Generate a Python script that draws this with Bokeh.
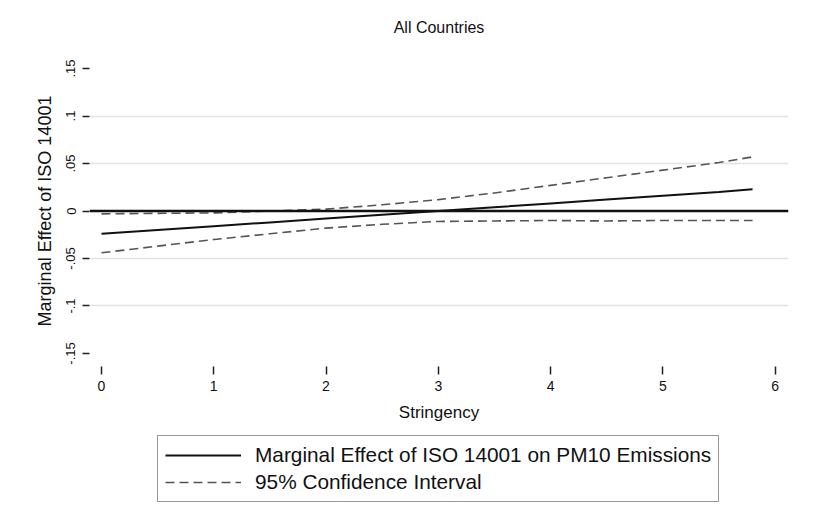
from bokeh.plotting import figure
from bokeh.layouts import column
from bokeh.models import Span, FixedTicker, Legend, LegendItem, Range1d, CustomJSTickFormatter
from bokeh.embed import file_html
from bokeh.resources import INLINE

# ---- data ----
stringency = [0, 0.5, 1, 1.5, 2, 2.5, 3, 3.5, 4, 4.5, 5, 5.5, 5.8]
marginal_effect = [-0.024, -0.020, -0.016, -0.012, -0.008, -0.004, 0.000,
                   0.004, 0.008, 0.012, 0.016, 0.020, 0.023]
ci_upper = [-0.003, -0.0025, -0.002, 0.000, 0.002, 0.0065, 0.012,
            0.019, 0.027, 0.035, 0.043, 0.051, 0.057]
ci_lower = [-0.044, -0.037, -0.030, -0.024, -0.018, -0.014, -0.011,
            -0.0105, -0.010, -0.0105, -0.010, -0.010, -0.010]
x_ticks = [0, 1, 2, 3, 4, 5, 6]
y_ticks = [-0.15, -0.1, -0.05, 0, 0.05, 0.1, 0.15]
y_tick_labels = {-0.15: "-.15", -0.1: "-.1", -0.05: "-.05", 0: "0",
                 0.05: ".05", 0.1: ".1", 0.15: ".15"}
grid_levels = [-0.1, -0.05, 0.05, 0.1]
legend_labels = ["Marginal Effect of ISO 14001 on PM10 Emissions", "95% Confidence Interval"]

FONT = "Liberation Sans"
ME_STYLE = dict(line_color="#111", line_width=2)
CI_STYLE = dict(line_color="#555", line_width=1.6, line_dash="9 5")

p = figure(width=815, height=430, output_backend="svg", toolbar_location=None,
           x_range=Range1d(-0.107, 6.12), y_range=Range1d(-0.1637, 0.1637),
           min_border_left=89, min_border_right=27, min_border_top=55,
           min_border_bottom=64, title="All Countries")

p.outline_line_color = None
p.background_fill_color = "white"
p.border_fill_color = "white"

p.title.align = "center"
p.title.vertical_align = "top"
p.title.text_font = FONT
p.title.text_font_size = "16px"
p.title.text_font_style = "normal"
p.title.text_color = "#111"
p.title.standoff = 35

# grid
p.xgrid.visible = False
p.ygrid.ticker = FixedTicker(ticks=grid_levels)
p.ygrid.grid_line_color = "#e2e2e2"
p.ygrid.grid_line_width = 1.5

# x axis
xa = p.xaxis[0]
xa.ticker = FixedTicker(ticks=x_ticks)
xa.axis_line_color = None
xa.major_tick_out = 8
xa.major_tick_in = 0
xa.minor_tick_line_color = None
xa.major_tick_line_color = "#222"
xa.major_tick_line_width = 1.5
xa.major_label_text_font = FONT
xa.major_label_text_font_size = "14px"
xa.major_label_text_color = "#111"
xa.major_label_standoff = 6
xa.axis_label = "Stringency"
xa.axis_label_text_font = FONT
xa.axis_label_text_font_size = "17px"
xa.axis_label_text_font_style = "normal"
xa.axis_label_text_color = "#111"
xa.axis_label_standoff = 9

# y axis
ya = p.yaxis[0]
ya.ticker = FixedTicker(ticks=y_ticks)
ya.formatter = CustomJSTickFormatter(code="""
const m = %s;
const k = tick.toFixed(2);
return (k in m) ? m[k] : tick.toString();
""" % ("{" + ",".join('"%.2f":"%s"' % (k, v) for k, v in y_tick_labels.items()) + "}"))
ya.axis_line_color = None
ya.major_tick_out = 7
ya.major_tick_in = 0
ya.minor_tick_line_color = None
ya.major_tick_line_color = "#222"
ya.major_tick_line_width = 1.5
ya.major_label_orientation = "vertical"
ya.major_label_text_font = FONT
ya.major_label_text_font_size = "13px"
ya.major_label_text_color = "#111"
ya.major_label_standoff = 7
ya.axis_label = "Marginal Effect of ISO 14001"
ya.axis_label_text_font = FONT
ya.axis_label_text_font_size = "18px"
ya.axis_label_text_font_style = "normal"
ya.axis_label_text_color = "#111"
ya.axis_label_standoff = 9

# zero reference line
p.add_layout(Span(location=0, dimension="width", line_color="#111", line_width=2.5))

# series
p.line(stringency, marginal_effect, **ME_STYLE)
p.line(stringency, ci_upper, **CI_STYLE)
p.line(stringency, ci_lower, **CI_STYLE)

# ---- legend strip below the plot (series drawn off-view, only legend shows) ----
lg = figure(width=815, height=81, output_backend="svg", toolbar_location=None,
            x_range=Range1d(100, 101), y_range=Range1d(100, 101),
            x_axis_type=None, y_axis_type=None,
            min_border_left=0, min_border_right=0, min_border_top=0, min_border_bottom=0)
lg.outline_line_color = None
lg.xgrid.visible = False
lg.ygrid.visible = False
lg.border_fill_color = "white"
k_me = lg.line(stringency, marginal_effect, **ME_STYLE)
k_ci = lg.line(stringency, ci_upper, **CI_STYLE)

legend = Legend(items=[
    LegendItem(label=legend_labels[0], renderers=[k_me]),
    LegendItem(label=legend_labels[1], renderers=[k_ci]),
], location=(68, 9))
legend.label_text_font = FONT
legend.label_text_font_size = "20.8px"
legend.label_text_color = "#111"
legend.glyph_width = 76
legend.glyph_height = 24
legend.label_height = 24
legend.label_standoff = 14
legend.spacing = 3
legend.padding = 7
legend.margin = 0
legend.border_line_color = "#333"
legend.border_line_width = 1.5
legend.background_fill_alpha = 1
lg.add_layout(legend, "center")

layout = column(p, lg, spacing=0)
open("out.html", "w").write(file_html(layout, INLINE))
